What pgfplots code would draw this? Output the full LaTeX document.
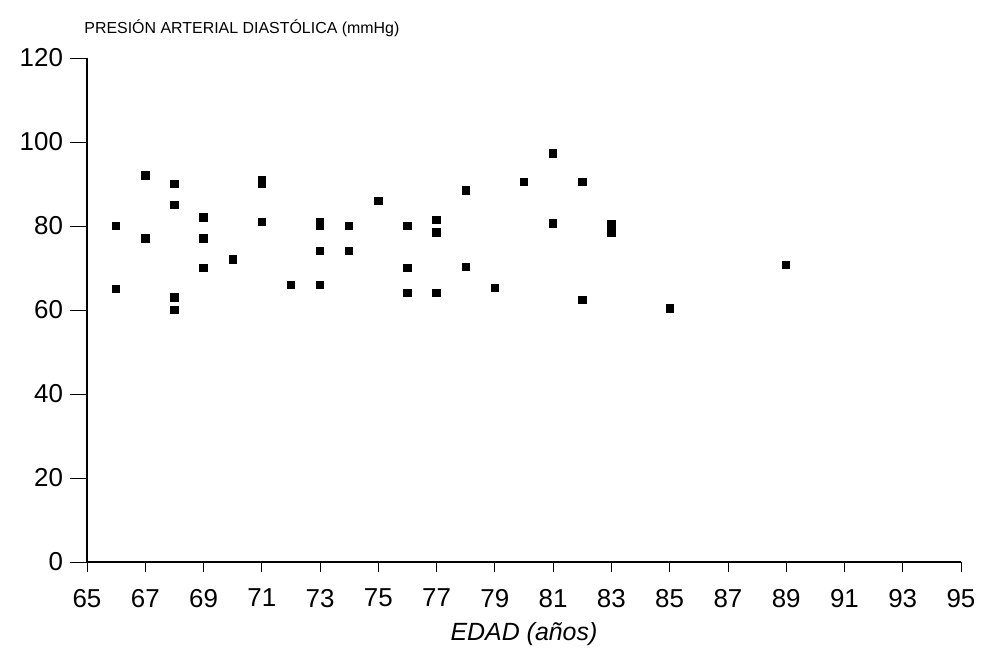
\documentclass[border=0pt]{standalone}
\usepackage{fontspec}
\setmainfont{Liberation Sans}
\usepackage{pgfplots}
\pgfplotsset{compat=1.18}
\begin{document}
\begin{tikzpicture}
\begin{axis}[
  scale only axis,
  width=437bp, height=252bp,
  xmin=65, xmax=95, ymin=0, ymax=120,
  xtick={65,67,...,95},
  ytick={0,20,...,120},
  axis lines*=left,
  axis line style={line width=0.6pt},
  tick style={black, line width=0.4pt},
  tick align=outside,
  major tick length=8.5bp,
  xtick style={/pgfplots/major tick length=5bp},
  /pgf/number format/assume math mode=true,
  ticklabel style={font=\fontsize{13}{15}\selectfont},
  xticklabel style={yshift=-1.5bp},
  clip=false,
]
\addplot[only marks, mark=square*, mark size=1.85bp, black] coordinates {
(66,80) (66,65) (67,92) (67,77) (68,90) (68,85) (68,63) (68,60)
(69,82) (69,77) (69,70) (70,72) (71,91) (71,90) (71,81) (72,66)
(73,81) (73,80) (73,74) (73,66) (74,80) (74,74) (75,86)
(76,80) (76,70) (76,64) (77,81.5) (77,78.5) (77,64)
(78,88.5) (78,70.3) (79,65.2) (80,90.5) (81,97.3) (81,80.6)
(82,90.5) (82,62.4) (83,80.5) (83,78.5) (85,60.4) (89,70.7)
};
\end{axis}
\node[anchor=west, font=\fontsize{8}{10}\selectfont, inner sep=0pt] at ([xshift=-1.5bp,yshift=15bp]current axis.north west) {PRESIÓN ARTERIAL DIASTÓLICA (mmHg)};
\node[font=\fontsize{12.5}{14}\selectfont\itshape, inner sep=0pt] at ([yshift=-36bp]current axis.south) {EDAD (años)};
\path[use as bounding box] ([xshift=-43.5bp,yshift=-48.5bp]current axis.south west) rectangle ([xshift=10bp,yshift=29bp]current axis.north east);
\end{tikzpicture}
\end{document}
